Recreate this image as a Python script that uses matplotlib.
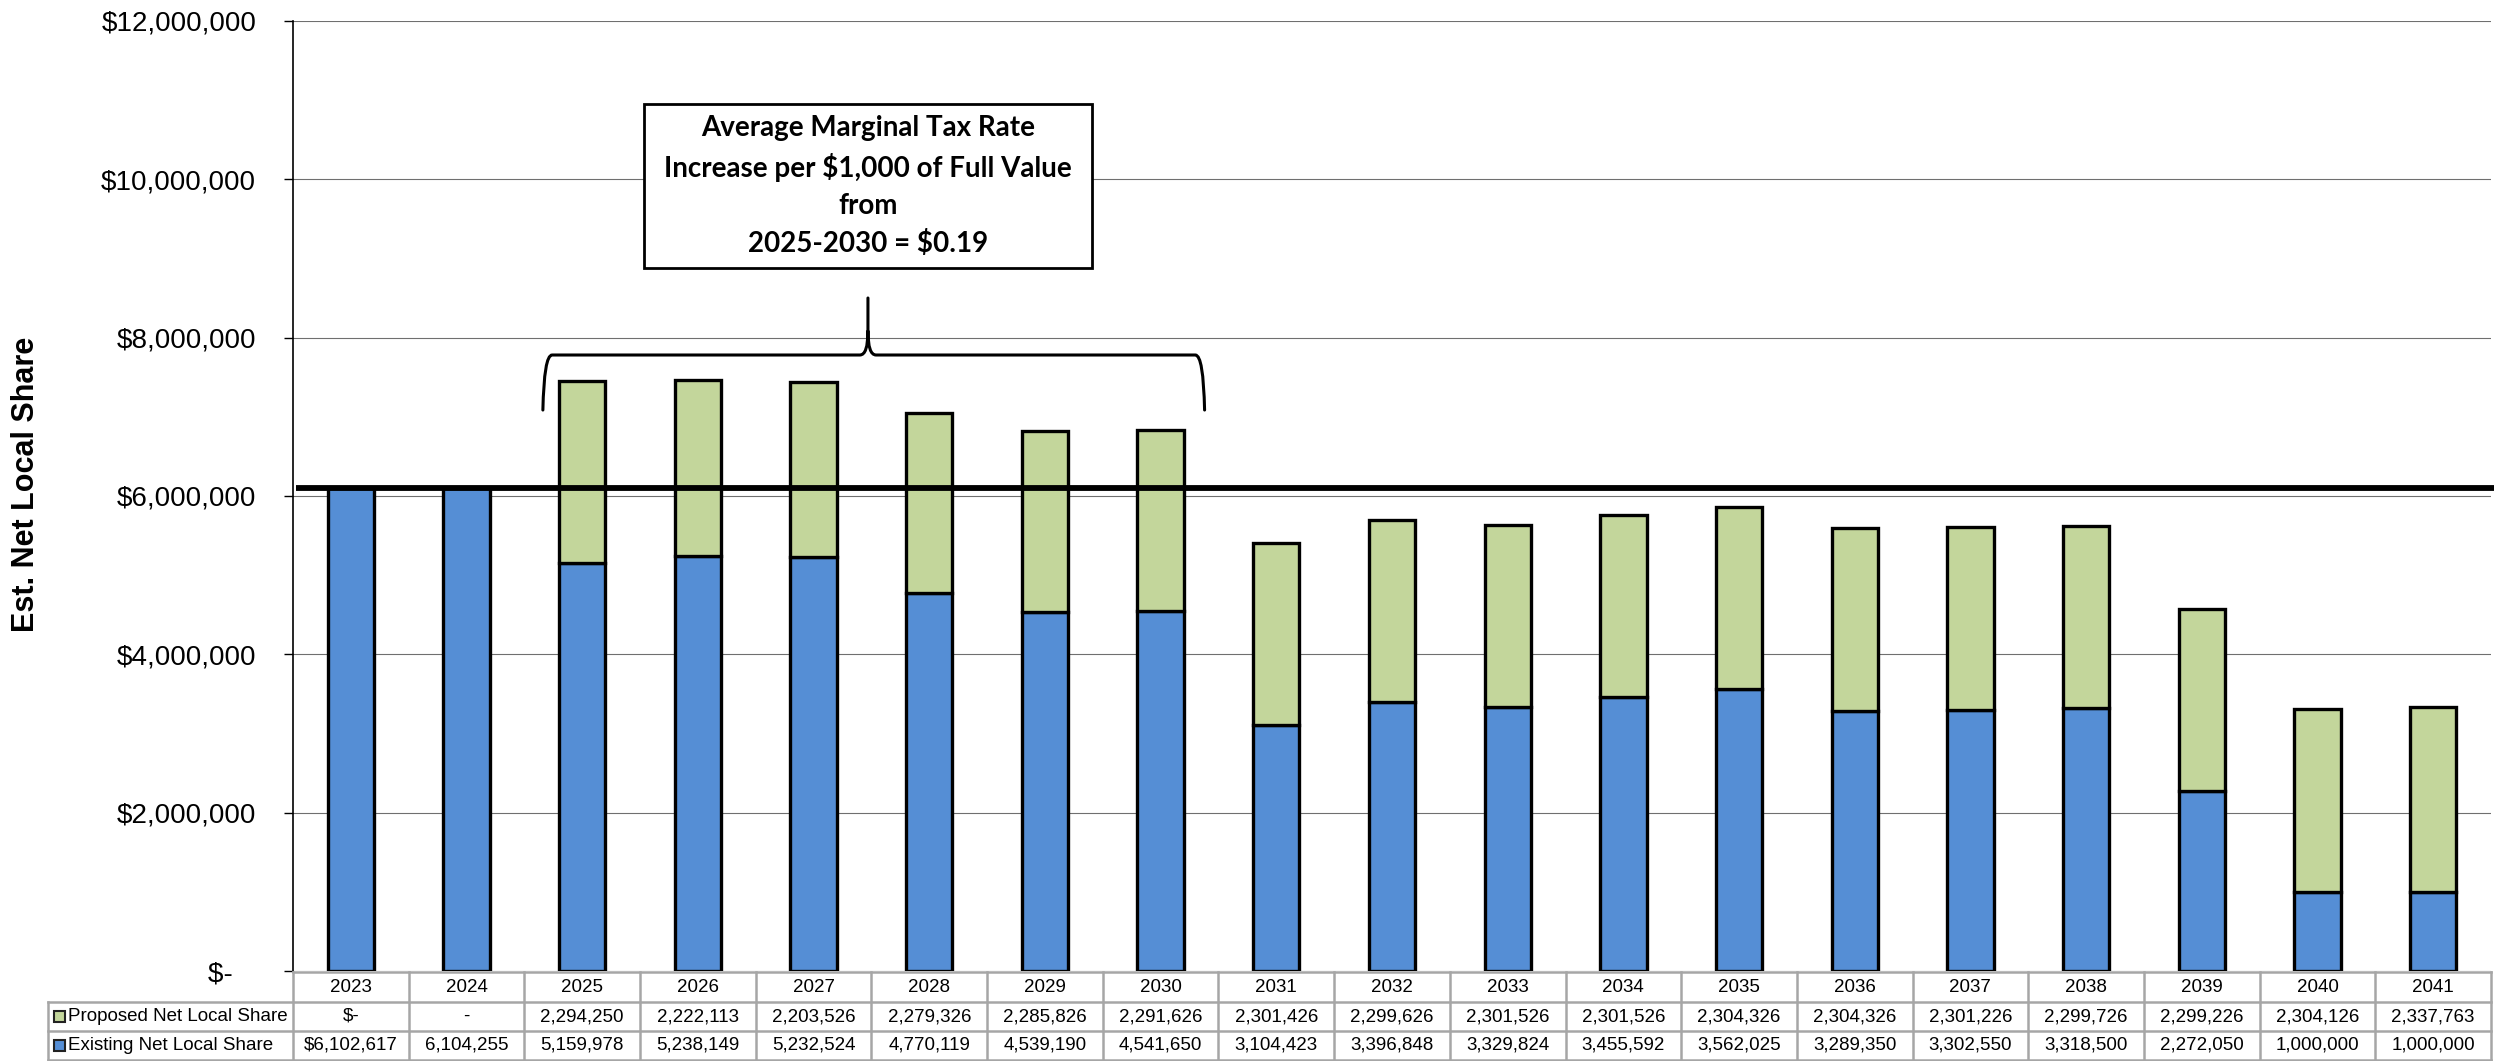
import matplotlib
matplotlib.use("Agg")
import matplotlib.pyplot as plt
from matplotlib.patches import Rectangle, PathPatch
from matplotlib.path import Path
from matplotlib.lines import Line2D
from matplotlib.ticker import FuncFormatter
import matplotlib.transforms as mtransforms

# ---- data -------------------------------------------------------------
years = ["2023", "2024", "2025", "2026", "2027", "2028", "2029", "2030", "2031",
         "2032", "2033", "2034", "2035", "2036", "2037", "2038", "2039", "2040", "2041"]
existing = [6102617, 6104255, 5159978, 5238149, 5232524, 4770119, 4539190, 4541650,
            3104423, 3396848, 3329824, 3455592, 3562025, 3289350, 3302550, 3318500,
            2272050, 1000000, 1000000]
proposed = [0, 0, 2294250, 2222113, 2203526, 2279326, 2285826, 2291626, 2301426,
            2299626, 2301526, 2301526, 2304326, 2304326, 2301226, 2299726, 2299226,
            2304126, 2337763]
proposed_cells = ["$-", "-"] + [f"{v:,}" for v in proposed[2:]]
existing_cells = [f"${existing[0]:,}"] + [f"{v:,}" for v in existing[1:]]
baseline = existing[0]
yticks = [0, 2000000, 4000000, 6000000, 8000000, 10000000, 12000000]
note = "Average Marginal Tax Rate\nIncrease per $1,000 of Full Value\nfrom\n2025-2030 = $0.19"

BLUE = "#558ED5"
GREEN = "#C3D69B"
GRID = "#A6A6A6"

plt.rcParams["font.family"] = ["Liberation Sans", "DejaVu Sans"]

W, H = 2513, 1061
fig = plt.figure(figsize=(W / 100, H / 100), dpi=100)
ax_l, ax_r, ax_t, ax_b = 293, 2491, 21, 971
ax = fig.add_axes([ax_l / W, 1 - ax_b / H, (ax_r - ax_l) / W, (ax_b - ax_t) / H])

n = len(years)
x = list(range(n))
ax.set_xlim(-0.5, n - 0.5)
ax.set_ylim(0, 12000000)

# stacked columns
ax.bar(x, existing, width=0.40, color=BLUE, edgecolor="black", linewidth=2.4, zorder=3)
ax.bar(x, proposed, width=0.40, bottom=existing, color=GREEN, edgecolor="black",
       linewidth=2.4, zorder=3)

# current-level reference line
ax.hlines(baseline, -0.47, n - 0.47, colors="black", linewidth=4.2, zorder=5, clip_on=False)

# axes styling
ax.set_yticks(yticks)
ax.yaxis.set_major_formatter(FuncFormatter(lambda v, p: "$-   " if v == 0 else f"${v:,.0f}"))
ax.tick_params(axis="y", direction="out", length=6.5, width=1, color="black",
               labelsize=20, pad=20)
ax.tick_params(axis="x", bottom=False, labelbottom=False)
ax.grid(axis="y", color="#6F6F6F", linewidth=0.8, zorder=0)
for s in ("top", "right", "bottom"):
    ax.spines[s].set_visible(False)
ax.spines["left"].set_linewidth(1.2)
ax.spines["left"].set_color("black")

fig.text(26 / W, 1 - 484 / H, "Est. Net Local Share", rotation=90, ha="center", va="center",
         fontsize=22, fontweight="bold")

# ---- data table under the plot -----------------------------------------
bt = mtransforms.blended_transform_factory(ax.transData, ax.transAxes)
ph = ax_b - ax_t
def yfrac(py):
    return -(py - ax_b) / ph

row_tops = [yfrac(972), yfrac(1002), yfrac(1031)]
row_bot = yfrac(1060)
label_left = (48 - ax_l) / ((ax_r - ax_l) / n) - 0.5

tkw = dict(color=GRID, linewidth=1.8, transform=bt, clip_on=False, zorder=6)
# horizontal rules
ax.add_line(Line2D([-0.5, n - 0.5], [row_tops[0]] * 2, **tkw))
for yy in (row_tops[1], row_tops[2], row_bot):
    ax.add_line(Line2D([label_left, n - 0.5], [yy] * 2, **tkw))
# vertical rules
for i in range(n + 1):
    ax.add_line(Line2D([i - 0.5, i - 0.5], [row_tops[0], row_bot], **tkw))
ax.add_line(Line2D([label_left, label_left], [row_tops[1], row_bot], **tkw))

def mid(a, b):
    return (a + b) / 2

cell_fs = 13.5
for i in range(n):
    ax.text(i, mid(row_tops[0], row_tops[1]), years[i], transform=bt, ha="center",
            va="center", fontsize=cell_fs, clip_on=False)
    ax.text(i, mid(row_tops[1], row_tops[2]), proposed_cells[i], transform=bt, ha="center",
            va="center", fontsize=cell_fs, clip_on=False)
    ax.text(i, mid(row_tops[2], row_bot), existing_cells[i], transform=bt, ha="center",
            va="center", fontsize=cell_fs, clip_on=False)

# row labels with legend keys
for (label, col, top, bot) in [("Proposed Net Local Share", GREEN, row_tops[1], row_tops[2]),
                               ("Existing Net Local Share", BLUE, row_tops[2], row_bot)]:
    cy = 1 - (ax_b - mid(top, bot) * ph) / H
    fig.add_artist(Rectangle((54 / W, cy - 5.5 / H), 11 / W, 11 / H, facecolor=col,
                             edgecolor="#222222", linewidth=1.5, transform=fig.transFigure))
    fig.text(68 / W, cy, label, ha="left", va="center", fontsize=cell_fs)

# ---- annotation box and brace -----------------------------------------
bx0, bx1, by0, by1 = 2.534, 6.406, 8880000, 10952000
ax.add_patch(Rectangle((bx0, by0), bx1 - bx0, by1 - by0, facecolor="white",
                       edgecolor="black", linewidth=2.0, zorder=7))
ax.text((bx0 + bx1) / 2, (by0 + by1) / 2, note, ha="center", va="center",
        fontsize=20, fontweight="bold", family=["Lato", "DejaVu Sans"],
        linespacing=1.5, zorder=8)

x0, x1, xm = 1.66, 7.38, 4.47
yb, yt, ytip = 7086000, 7781000, 8501000
verts = [(x0, yb), (x0 + 0.01, yt), (x0 + 0.08, yt),
         (xm - 0.07, yt),
         (xm, yt), (xm, yt + 300000),
         (xm, ytip),
         (xm, yt + 300000),
         (xm, yt), (xm + 0.07, yt),
         (x1 - 0.08, yt),
         (x1 - 0.01, yt), (x1, yb)]
codes = [Path.MOVETO, Path.CURVE3, Path.CURVE3,
         Path.LINETO,
         Path.CURVE3, Path.CURVE3,
         Path.LINETO,
         Path.MOVETO,
         Path.CURVE3, Path.CURVE3,
         Path.LINETO,
         Path.CURVE3, Path.CURVE3]
ax.add_patch(PathPatch(Path(verts, codes), facecolor="none", edgecolor="black",
                       linewidth=2.2, zorder=7, capstyle="round"))

fig.savefig("out.png", dpi=100)
